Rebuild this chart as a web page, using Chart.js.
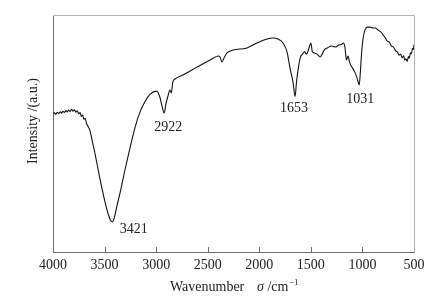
<!DOCTYPE html>
<html>
<head>
<meta charset="utf-8">
<script src="https://cdn.jsdelivr.net/npm/chart.js@4/dist/chart.umd.min.js"></script>
<style>
html,body{margin:0;padding:0;background:#fff;}
#c{display:block;}
</style>
</head>
<body>
<canvas id="c" width="441" height="301"></canvas>
<script>
// FT-IR spectrum
const wavenumber = [4000,3985,3972,3958,3945,3930,3917,3903,3890,3875,3862,3848,3835,3820,3806,3792,3778,3765,3750,3738,3725,3712,3700,3688,3675,3660,3644,3620,3596,3548,3500,3462,3440,3421,3404,3380,3350,3302,3253,3205,3157,3108,3060,2994,2965,2945,2922,2905,2888,2866,2853,2838,2817,2740,2604,2478,2400,2381,2362,2342,2313,2255,2119,2022,1925,1867,1819,1770,1731,1702,1673,1653,1640,1620,1600,1580,1560,1545,1530,1515,1500,1485,1465,1440,1410,1390,1370,1340,1300,1260,1230,1200,1185,1170,1155,1140,1125,1110,1095,1075,1055,1040,1031,1020,1008,993,975,950,925,900,875,850,820,800,780,760,740,720,700,680,660,645,630,615,600,590,577,565,555,545,535,525,515,505,500];
const intensity = [58.3,58.7,58.1,58.9,58.4,59.2,58.6,59.4,58.9,59.7,59.1,59.9,59.3,60.2,59.4,60.0,59.0,59.6,58.3,58.8,57.2,57.8,56.0,56.4,54.2,53.0,51.5,47.0,42.2,31.6,21.9,15.6,13.2,12.7,14.8,19.5,24.9,34.6,44.0,52.5,59.0,63.5,66.5,67.9,65.5,62.0,58.6,62.5,65.4,68.3,67.1,71.8,73.0,74.7,78.0,81.0,82.7,82.3,80.2,81.9,84.0,85.2,86.1,88.2,89.9,90.3,89.9,88.2,84.4,77.6,71.7,65.6,71.3,78.0,82.3,83.5,84.6,83.5,84.4,86.5,88.2,84.4,84.0,83.5,82.3,83.5,85.2,86.1,86.9,86.5,87.3,87.7,88.2,86.5,81.0,82.7,80.2,78.5,77.6,76.0,73.8,71.5,70.5,76.0,84.0,90.3,93.7,94.9,94.9,94.5,94.5,93.7,92.8,91.6,90.5,89.0,88.6,87.0,86.5,85.0,84.4,83.0,83.5,82.0,82.8,81.0,81.5,80.4,82.5,81.8,84.0,83.6,86.0,85.5,87.5];
const xTicks = [4000,3500,3000,2500,2000,1500,1000,500];
const peakLabels = ['3421','2922','1653','1031'];
const xTitle = ['Wavenumber', 'σ', ' /cm', '−1'];
const yTitle = 'Intensity /(a.u.)';

const FONT = '"Liberation Serif", "Times New Roman", serif';
const points = wavenumber.map((w, i) => ({x: w, y: intensity[i]}));

const decor = {
  id: 'decor',
  afterDraw(chart) {
    const {ctx, chartArea: a, scales: {x, y}} = chart;
    ctx.save();
    // light top/right frame
    ctx.strokeStyle = '#b4b4b4';
    ctx.lineWidth = 1;
    ctx.beginPath();
    ctx.moveTo(a.left, a.top + 0.5);
    ctx.lineTo(a.right + 0.5, a.top + 0.5);
    ctx.lineTo(a.right + 0.5, a.bottom);
    ctx.stroke();
    // inner ticks
    ctx.strokeStyle = '#6e6e6e';
    ctx.beginPath();
    xTicks.slice(1, -1).forEach(v => {
      const px = Math.round(x.getPixelForValue(v)) + 0.5;
      ctx.moveTo(px, a.bottom);
      ctx.lineTo(px, a.bottom - 5);
    });
    ctx.stroke();
    // peak labels
    ctx.fillStyle = '#222';
    ctx.font = '14px ' + FONT;
    ctx.textBaseline = 'middle';
    peakLabels.forEach((lab, k) => {
      const w = Number(lab);
      const idx = wavenumber.indexOf(w);
      const px = x.getPixelForValue(w);
      const py = y.getPixelForValue(intensity[idx]);
      if (k === 0) {
        ctx.textAlign = 'left';
        ctx.fillText(lab, px + 7, py + 7);
      } else if (k === 1) {
        ctx.textAlign = 'center';
        ctx.fillText(lab, px + 4, py + 14);
      } else if (k === 2) {
        ctx.textAlign = 'center';
        ctx.fillText(lab, px - 1, py + 12);
      } else {
        ctx.textAlign = 'center';
        ctx.fillText(lab, px + 1, py + 14);
      }
    });
    // x title
    ctx.textAlign = 'left';
    ctx.textBaseline = 'alphabetic';
    let tx = 170, base = 291;
    ctx.font = '14px ' + FONT;
    ctx.fillText(xTitle[0], tx, base);
    tx = 257;
    ctx.font = 'italic 14px ' + FONT;
    ctx.fillText(xTitle[1], tx, base);
    tx += ctx.measureText(xTitle[1]).width;
    ctx.font = '14px ' + FONT;
    ctx.fillText(xTitle[2], tx, base);
    tx += ctx.measureText(xTitle[2]).width + 0.5;
    ctx.font = '9px ' + FONT;
    ctx.fillText(xTitle[3], tx, base - 6);
    // y title
    ctx.font = '14px ' + FONT;
    ctx.translate(33, 121);
    ctx.rotate(-Math.PI / 2);
    ctx.textAlign = 'center';
    ctx.textBaseline = 'middle';
    ctx.fillText(yTitle, 0, 0);
    ctx.restore();
  }
};

new Chart(document.getElementById('c'), {
  type: 'line',
  data: {
    datasets: [{
      data: points,
      borderColor: '#111',
      borderWidth: 1.1,
      pointRadius: 0,
      fill: false,
      cubicInterpolationMode: 'monotone'
    }]
  },
  options: {
    responsive: false,
    animation: false,
    devicePixelRatio: 1,
    layout: {padding: {top: 15, right: 27, left: 0, bottom: 0}},
    plugins: {legend: {display: false}, tooltip: {enabled: false}},
    scales: {
      x: {
        type: 'linear',
        reverse: true,
        min: 500,
        max: 4000,
        afterBuildTicks(s) { s.ticks = xTicks.map(v => ({value: v})); },
        afterFit(s) { s.height = 49; },
        grid: {display: false, drawTicks: false},
        border: {display: true, color: '#6e6e6e', width: 1},
        ticks: {
          autoSkip: false, maxRotation: 0, padding: 5,
          color: '#222',
          font: {family: FONT, size: 14},
          callback: v => String(v)
        }
      },
      y: {
        min: 0,
        max: 100,
        afterFit(s) { s.width = 53; },
        grid: {display: false, drawTicks: false},
        border: {display: true, color: '#6e6e6e', width: 1},
        ticks: {display: false}
      }
    }
  },
  plugins: [decor]
});
</script>
</body>
</html>
